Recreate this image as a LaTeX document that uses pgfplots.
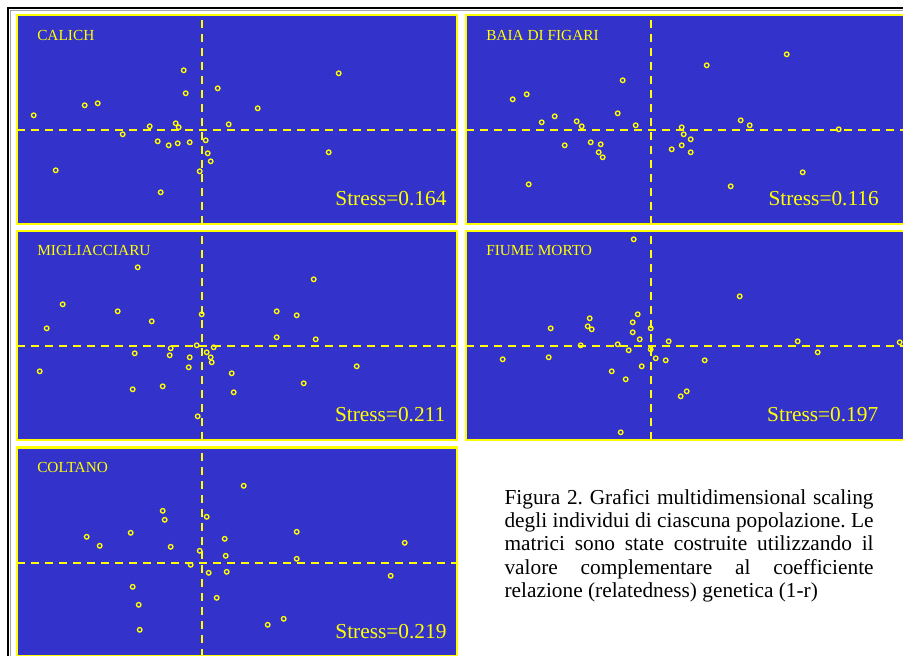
\documentclass[border=0pt]{standalone}
\usepackage{fontspec}
\setmainfont{Liberation Serif}
\usepackage{pgfplots}
\pgfplotsset{compat=1.18}
\definecolor{mdsblue}{RGB}{51,51,204}
\definecolor{myyellow}{RGB}{255,255,0}
\pgfplotsset{
  mds/.style={
    x=0.75pt, y=0.75pt,
    xmin=-184.7, xmax=255.3, ymin=-93.7, ymax=115.3,
    xtick=\empty, ytick=\empty,
    axis line style={draw=myyellow, line width=1.9pt},
    axis background/.style={fill=mdsblue},
    anchor=north west,
    clip=true,
  },
  cross/.style={draw=myyellow, line width=1.5pt, dash pattern=on 6pt off 4.5pt, mark=none},
  pts/.style={only marks, mark=o, mark size=1.7pt, mark options={draw=myyellow, line width=1pt}},
}
\newcommand{\crosshair}{%
  \addplot[cross] coordinates {(0,-93.7) (0,115.3)};
  \addplot[cross] coordinates {(-184.7,0) (255.3,0)};
}
\frenchspacing
\begin{document}
\begin{tikzpicture}
\useasboundingbox (0,0) rectangle (677.25pt,-492pt);
% outer page frame
\draw[black, line width=1.6pt] (6pt,-492pt) -- (6pt,-6pt) -- (677.25pt,-6pt);
\draw[gray!70, line width=0.5pt] (7.7pt,-492pt) -- (7.7pt,-7.7pt) -- (677.25pt,-7.7pt);

% CALICH
\begin{axis}[mds, at={(17*0.75pt,-15*0.75pt)}]
\crosshair
\addplot[pts] table {
x y
-18 60
137 57
16 42
-16 37
-117 25
-104 27
-168 15
56 22
-26 7
-23 3
-52 4
27 6
-79 -4
-44 -11
-33 -15
-24 -13
-12 -12
4 -10
6 -23
9 -31
-2 -41
127 -22
-146 -40
-41 -62
};
\end{axis}

% BAIA DI FIGARI
\begin{axis}[mds, at={(466*0.75pt,-15*0.75pt)}]
\crosshair
\addplot[pts] table {
x y
136 76
56 65
-28 50
-138 31
-124 36
-33 17
-96 14
-109 8
-74 9
-69 4
-15 5
90 10
99 5
31 3
33 -4
40 -9
21 -19
31 -15
40 -22
188 1
-86 -15
-60 -12
-50 -14
-52 -22
-48 -27
-122 -54
80 -56
152 -42
};
\end{axis}

% MIGLIACCIARU
\begin{axis}[mds, at={(17*0.75pt,-231*0.75pt)}]
\crosshair
\addplot[pts] table {
x y
-64 79
112 67
-139 42
-84 35
-50 25
-155 18
0 32
75 35
95 31
75 9
114 7
-5 1
-31 -2
12 -1
-67 -7
-32 -9
5 -6
-12 -11
9 -11
10 -16
-13 -21
-162 -25
30 -27
155 -20
102 -37
-69 -43
-39 -40
32 -46
-4 -70
};
\end{axis}

% FIUME MORTO
\begin{axis}[mds, at={(466*0.75pt,-231*0.75pt)}]
\crosshair
\addplot[pts] table {
x y
-17 107
89 50
-61 28
-13 32
-18 24
-100 18
-63 20
-59 17
-18 14
0 18
-11 7
18 5
-33 2
-70 1
-22 -4
0 -3
147 5
249 4
167 -6
-148 -13
-102 -11
5 -12
15 -14
54 -14
-9 -20
-39 -25
-25 -33
36 -45
30 -50
-30 -86
};
\end{axis}

% COLTANO
\begin{axis}[mds, at={(17*0.75pt,-447.5*0.75pt)}]
\crosshair
\addplot[pts] table {
x y
42 77
-39 52
-37 43
5 46
-71 30
-115 26
-102 17
-31 16
23 24
95 31
203 20
-2 12
24 7
95 4
-11 -2
7 -10
25 -9
189 -13
-69 -24
15 -35
-63 -42
82 -56
66 -62
-62 -67
};
\end{axis}

% panel titles
\begin{scope}[every node/.style={text=myyellow, inner sep=0pt, font=\fontsize{11.5}{13}\selectfont}]
\node[anchor=base west] at (37*0.75pt,-41*0.75pt) {CALICH};
\node[anchor=base west] at (486*0.75pt,-41*0.75pt) {BAIA DI FIGARI};
\node[anchor=base west] at (37*0.75pt,-255.5*0.75pt) {MIGLIACCIARU};
\node[anchor=base west] at (486*0.75pt,-255.5*0.75pt) {FIUME MORTO};
\node[anchor=base west] at (37*0.75pt,-472.5*0.75pt) {COLTANO};
\end{scope}
\begin{scope}[every node/.style={text=myyellow, inner sep=0pt, font=\fontsize{16}{18}\selectfont}]
\node[anchor=base east] at (446.7*0.75pt,-205.7*0.75pt) {Stress=0.164};
\node[anchor=base east] at (879*0.75pt,-205.5*0.75pt) {Stress=0.116};
\node[anchor=base east] at (445.5*0.75pt,-421.7*0.75pt) {Stress=0.211};
\node[anchor=base east] at (878.5*0.75pt,-421.7*0.75pt) {Stress=0.197};
\node[anchor=base east] at (446.7*0.75pt,-638.3*0.75pt) {Stress=0.219};
\end{scope}

% caption
\begin{scope}[every node/.style={anchor=base west, inner sep=0pt, font=\fontsize{16}{18}\selectfont}]
\node at (504.3*0.75pt,-504.3*0.75pt) {\makebox[276.75pt][s]{Figura 2. Grafici multidimensional scaling}};
\node at (504.3*0.75pt,-527.6*0.75pt) {\makebox[276.75pt][s]{degli individui di ciascuna popolazione. Le}};
\node at (504.3*0.75pt,-550.9*0.75pt) {\makebox[276.75pt][s]{matrici sono state costruite utilizzando il}};
\node at (504.3*0.75pt,-574.2*0.75pt) {\makebox[276.75pt][s]{valore complementare al coefficiente}};
\node at (504.3*0.75pt,-597.5*0.75pt) {relazione (relatedness) genetica (1-r)};
\end{scope}
\end{tikzpicture}
\end{document}
